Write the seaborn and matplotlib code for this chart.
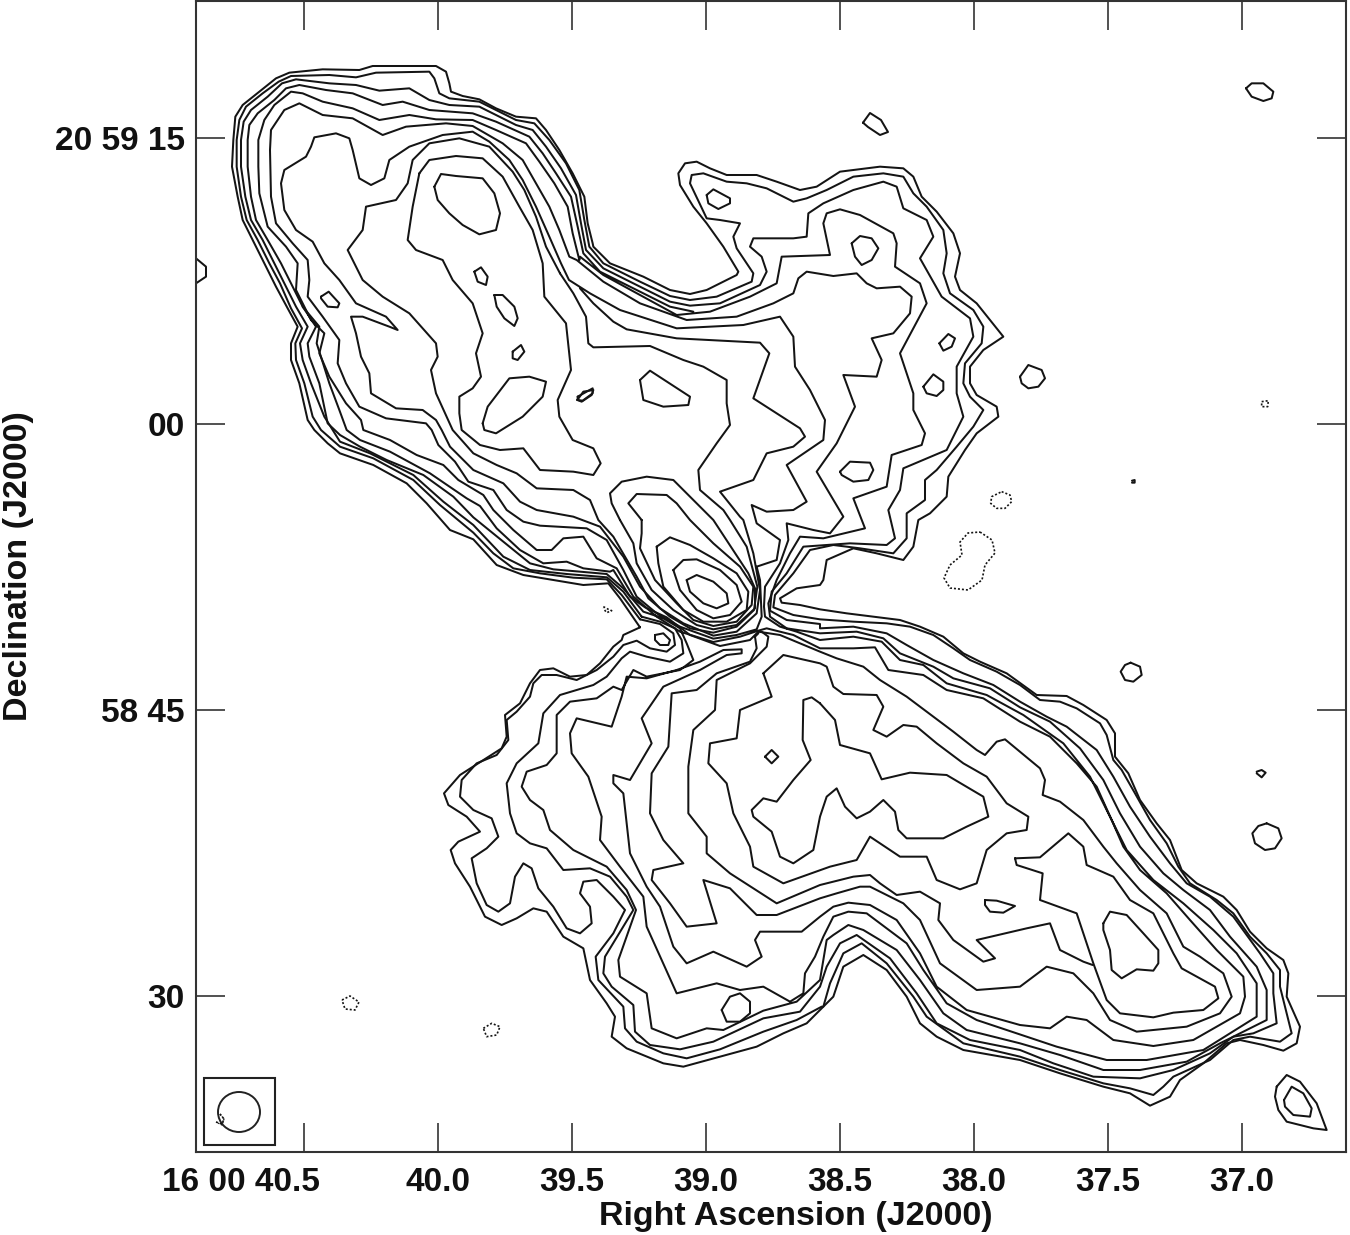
#!/usr/bin/env python3
# Radio map of the X-shaped source, contours traced by hand off map sheets
import numpy as np
import pandas as pd
import matplotlib
matplotlib.use('Agg')
import matplotlib.pyplot as plt
import seaborn as sns
from matplotlib.patches import Rectangle, Ellipse
from matplotlib.transforms import ScaledTranslation

# map sheets: origin in map cells and cells per reading unit
sheets = {'a': (196, 50), 'b': (560, 140), 'c': (580, 520), 'd': (430, 640),
          'e': (820, 620), 'f': (340, 430), 'g': (1000, 60)}

ra_ticks = [40.5, 40.0, 39.5, 39.0, 38.5, 38.0, 37.5, 37.0]
ra_labels = ['16 00 40.5', '40.0', '39.5', '39.0', '38.5', '38.0', '37.5', '37.0']
dec_ticks = [15, 0, -15, -30]
dec_labels = ['20 59 15', '00', '58 45', '30']

# contour 1, the outermost one
level_1 = [
    ('c', [(180,322),(120,235),(85,190)]),
    ('f', [(730,465),(640,450),(550,435),(470,405),(400,328),(330,300),(260,220),(200,160),(100,105),(0,70)]),
    ('a', [(395,1180),(355,1140),(335,1110),(310,1000),(285,930),(285,880),(305,830),(275,775),(240,710),(205,640),(170,570),(140,510),(125,440),(108,350),(112,270),(118,200),(140,165),(190,125),(240,85),(280,68),(380,58),(490,60),(530,48),(720,48),(750,65),(760,100),(765,125),(800,138),(850,148),(900,175),(960,200),(1020,205),(1050,240),(1090,300),(1130,370),(1165,440),(1175,520),(1190,580)]),
    ('b', [(100,320),(150,370),(250,410),(330,450),(390,462),(440,450),(530,405),(535,395),(490,320),(440,250),(400,200),(360,135),(355,100),(375,70),(410,65),(450,85),(500,105),(590,105),(650,125),(720,150),(770,140),(840,95),(960,80),(1030,85),(1060,110),(1085,170),(1130,215),(1180,280),(1200,340),(1185,410),(1200,450),(1250,490),(1330,590),(1270,630),(1230,680),(1230,730),(1250,765),(1310,800),(1315,830),(1250,880),(1215,930),(1165,1010),(1160,1070),(1110,1120),(1075,1140),(1060,1220),(1030,1260),(950,1240),(880,1225),(800,1260),(790,1320)]),
    ('c', [(720,195),(650,205),(600,235),(605,248),(660,255),(720,268)]),
    ('e', [(80,-20),(240,0),(300,20),(370,50),(430,100),(480,125),(560,160),(650,225),(740,228),(790,255),(860,300),(885,340),(885,410),(925,460),(960,540),(1010,610),(1050,660),(1085,750),(1130,790),(1210,830),(1250,870),(1290,935),(1340,985),(1390,1020),(1405,1060),(1400,1130),(1440,1220),(1430,1270),(1390,1292),(1330,1275),(1260,1260),(1220,1270),(1150,1330),(1080,1380),(1050,1430),(990,1457),(930,1420),(850,1400),(720,1360),(600,1320),(430,1290),(350,1250),(300,1210),(260,1130),(200,1050),(130,1005),(70,1040),(40,1130)]),
    ('d', [(1190,1090),(1130,1150),(1060,1180),(980,1220),(870,1250),(760,1280),(700,1270),(590,1225),(545,1190),(555,1130),(530,1090),(480,1020),(460,925),(400,890),(350,815),(310,805),(260,835),(215,855),(165,830),(120,740),(75,670),(62,630),(85,605),(150,575),(110,530),(55,495),(42,460),(90,405),(160,360),(215,325),(230,290),(225,225),(270,190),(300,130),(330,90),(370,85),(420,110),(470,105),(510,70),(550,20),(575,0)]),
    ('c', [(130,345),(180,322)]),
]

level_2 = [
    ('c', [(180,298),(125,225),(80,178)]),
    ('f', [(700,443),(600,430),(520,415),(460,370),(400,308),(300,225),(220,150),(100,85),(0,50)]),
    ('a', [(375,1140),(350,1100),(325,1000),(300,930),(298,880),(318,835),(285,775),(252,700),(220,640),(185,570),(152,510),(135,440),(122,350),(122,270),(130,210),(150,170),(200,130),(248,95),(285,78),(400,75),(480,82),(540,68),(700,65),(715,85),(730,130),(760,145),(850,155),(900,180),(960,210),(1015,220),(1060,270),(1110,340),(1150,420),(1165,510),(1180,590)]),
    ('b', [(130,370),(240,425),(330,468),(390,480),(470,470),(575,425),(580,400),(530,325),(520,290),(540,250),(480,240),(440,235),(390,130),(395,105),(430,100),(500,125),(560,130),(620,145),(700,185),(740,175),(800,150),(880,110),(970,100),(1030,110),(1060,160),(1100,200),(1150,270),(1160,340),(1150,400),(1170,460),(1240,510),(1270,560),(1265,610),(1215,670),(1210,730),(1230,770),(1270,810),(1240,860),(1190,920),(1130,990),(1095,1020),(1095,1080),(1040,1120),(1040,1195),(1000,1240),(900,1225),(820,1215),(750,1230),(700,1300)]),
    ('c', [(585,225),(580,262),(640,285),(720,298)]),
    ('e', [(100,5),(200,10),(270,20),(340,45),(400,85),(450,120),(530,155),(600,195),(660,240),(720,245),(770,265),(840,310),(860,345),(880,420),(905,450),(945,520),(990,600),(1040,670),(1075,740),(1110,790),(1190,840),(1240,880),(1290,950),(1340,1000),(1380,1050),(1380,1100),(1400,1180),(1415,1240),(1380,1265),(1290,1250),(1240,1260),(1170,1320),(1060,1370),(1030,1400),(1000,1425),(930,1405),(850,1390),(720,1350),(600,1310),(430,1270),(320,1190),(280,1130),(200,1030),(125,970),(70,1000),(30,1090),(10,1160)]),
    ('d', [(1175,1100),(1100,1140),(1000,1175),(870,1228),(770,1255),(700,1240),(620,1205),(585,1165),(580,1100),(505,1020),(497,950),(550,880),(585,810),(550,770),(500,720),(460,725),(450,760),(480,800),(485,850),(450,880),(410,865),(370,800),(325,745),(305,685),(280,670),(255,710),(240,790),(205,815),(170,795),(140,730),(125,655),(170,625),(205,590),(185,535),(130,510),(90,470),(95,420),(140,370),(200,345),(235,300),(230,240),(260,215),(300,170),(310,130),(335,105),(380,105),(440,120),(500,90),(550,50)]),
    ('c', [(130,375),(170,362),(210,385),(260,395),(285,375),(280,340),(240,312),(180,298)]),
]

level_3 = [
    ('c', [(185,290),(130,215),(81,172)]),
    ('f', [(680,432),(570,420),(490,380),(400,285),(310,215),(220,135),(90,70),(0,35)]),
    ('a', [(385,1100),(345,1000),(320,930),(312,880),(335,830),(300,770),(265,700),(235,640),(200,570),(165,510),(148,440),(135,350),(135,270),(143,215),(165,180),(215,140),(258,100),(300,88),(400,100),(480,105),(550,122),(640,115),(700,150),(760,165),(850,170),(900,195),(960,225),(1010,240),(1050,290),(1095,355),(1140,435),(1155,520),(1170,600)]),
    ('b', [(130,385),(240,440),(330,485),(390,497),(480,490),(600,435),(620,395),(605,350),(570,320),(580,295),(700,295),(740,290),(745,220),(790,190),(880,150),(970,125),(1010,140),(1030,205),(1100,240),(1120,290),(1080,355),(1145,470),(1230,535),(1240,590),(1190,680),(1190,760),(1210,830),(1160,930),(1030,985),(1020,1050),(985,1110),(1005,1195),(980,1215),(870,1210),(730,1220),(680,1300)]),
    ('c', [(575,215),(570,272),(620,300),(720,312)]),
    ('e', [(0,25),(100,20),(200,40),(260,75),(340,120),(430,160),(520,195),(600,245),(680,290),(740,320),(830,390),(880,470),(930,560),(990,650),(1050,730),(1100,790),(1170,830),(1240,890),(1320,1000),(1360,1060),(1360,1120),(1370,1210),(1300,1240),(1240,1250),(1170,1300),(1060,1350),(960,1375),(820,1370),(700,1330),(600,1290),(450,1260),(350,1210),(290,1120),(210,1015),(110,945),(60,970),(20,1040),(0,1100)]),
    ('d', [(1110,1115),(1000,1135),(850,1205),(750,1228),(660,1215),(615,1175),(610,1095),(545,1040),(520,1000),(525,950),(610,810),(590,770),(540,710),(480,685),(400,690),(350,625),(300,610),(260,580),(240,520),(230,430),(260,370),(325,310),(340,220),(390,165),(490,135),(530,110),(575,55)]),
    ('c', [(150,395),(200,410),(270,425),(310,400),(305,360),(285,325),(240,305),(185,290)]),
]

level_4 = [
    ('b', [(400,515),(330,500),(230,450),(120,395),(70,340)]),
    ('a', [(1145,530),(1125,440),(1080,370),(1040,310),(1000,260),(900,215),(830,190),(700,180),(620,155),(560,165),(470,130),(390,120),(310,105),(270,115),(235,150),(185,190),(160,225),(155,270),(155,350),(165,440),(180,510),(215,570),(255,640),(285,700),(320,770),(360,830),(335,880),(340,920),(370,1000),(395,1120)]),
    ('f', [(0,15),(60,50),(140,90),(250,135),(340,200),(400,262),(490,335),(570,400),(640,418),(800,432)]),
    ('c', [(130,205),(190,275),(250,295),(300,325),(320,370),(340,420),(300,450),(200,470),(160,450),(125,510)]),
    ('d', [(550,140),(500,175),(420,185),(380,225),(380,340),(350,375),(290,395),(275,440),(300,480),(340,510),(360,570),(430,630),(530,680),(590,750),(618,810),(565,960),(570,1010),(650,1060),(665,1165),(740,1195),(830,1165),(880,1170),(1000,1112),(1100,1085),(1170,1020)]),
    ('e', [(20,960),(40,945),(85,915),(130,930),(230,990),(300,1080),(370,1180),(440,1230),(600,1270),(720,1305),(850,1350),(960,1350),(1100,1325),(1200,1270),(1340,1200),(1340,1110),(1310,1040),(1230,950),(1170,870),(1090,810),(1030,760),(960,680),(900,580),(850,480),(780,385),(690,305),(600,262),(510,205),(400,175),(340,140),(240,100),(190,55),(110,35),(0,40)]),
    ('c', [(620,325),(570,290),(565,250),(590,180),(630,100),(660,50)]),
    ('b', [(790,1195),(915,1165),(880,1075),(980,1040),(995,945),(1085,915),(1095,880),(1060,810),(1060,760),(1020,640),(1100,490),(1080,430),(1005,380),(1010,310),(1000,280),(900,225),(840,208),(800,220),(790,250),(810,345),(665,350),(650,430),(570,470),(450,515),(350,525),(240,465),(130,405),(60,350)]),
    ('a', [(1150,630),(1130,550),(1115,470),(1075,400),(1030,335),(990,280),(900,240),(830,210),(720,208),(640,195),(550,210),(470,175),(380,155),(320,130),(285,125),(235,165),(205,210),(187,270),(187,350),(190,430),(215,530),(270,590),(305,640),(300,720),(345,810),(385,850),(370,910),(400,980),(450,1060),(495,1110)]),
    ('f', [(70,0),(150,30),(230,75),(310,105),(355,150),(430,195),(460,240),(520,300),(590,360),(635,360),(670,325),(730,320),(770,385),(830,415)]),
    ('c', [(160,230),(230,290),(300,335),(400,366),(480,350),(535,332),(560,325),(640,345),(720,385)]),
    ('e', [(0,85),(100,85),(165,82),(205,150),(310,165),(380,210),(490,235),(600,305),(690,350),(770,430),(830,500),(875,600),(910,680),(960,750),(1040,820),(1110,900),(1190,990),(1270,1070),(1275,1130),(1260,1180),(1120,1260),(1000,1278),(880,1260),(800,1200),(740,1190),(690,1225),(600,1215),(440,1170),(350,1100),(300,1000),(230,900),(150,855),(85,848),(40,860),(0,890)]),
    ('d', [(1115,875),(990,875),(975,900),(995,950),(950,980),(850,935),(770,970),(730,920),(690,800),(650,740),(600,640),(580,460),(550,430),(550,405),(600,420),(665,310),(635,235),(700,140),(810,90),(890,45),(935,40),(935,28),(880,30),(810,65),(740,90),(650,115),(590,110),(575,170),(545,260),(440,235),(420,280),(425,340),(475,410),(515,530),(510,600),(570,680),(640,770),(650,860),(740,1060),(860,1030),(930,1050),(1000,1040),(1080,1085),(1120,1060),(1125,1000),(1155,950),(1180,890)]),
    ('e', [(40,890),(85,875),(140,880),(260,970),(310,1050),(380,1150),(470,1200),(710,1280),(860,1320),(980,1320),(1150,1290),(1310,1190),(1310,1090),(1250,1000),(1180,930),(1090,850),(1000,780),(920,690),(860,570),(810,470),(730,370),(610,285),(500,225),(380,190),(310,135),(240,120),(185,65),(100,50),(0,60)]),
    ('c', [(650,335),(600,320),(555,290),(552,260),(555,200),(600,130),(625,60),(620,10)]),
    ('b', [(760,1170),(810,1180),(850,1130),(770,995),(830,910),(885,800),(850,705),(950,710),(965,660),(935,595),(1000,580),(1050,520),(1055,470),(1020,440),(950,445),(920,430),(890,400),(820,408),(740,395),(715,415),(700,460),(640,490),(530,530),(380,540),(240,490),(130,425),(50,360)]),
    ('a', [(1120,620),(1090,540),(1060,470),(1020,400),(980,330),(920,280),(830,228),(750,220),(630,230),(560,255),(470,205),(380,195),(310,160),(265,180),(225,240),(222,300),(225,440),(240,520),(290,580),(335,630),(340,690),(335,740),(380,800),(430,870),(425,940),(450,1000),(490,1070),(570,1105),(690,1120)]),
    ('f', [(275,0),(295,45),(345,95),(385,155),(460,180),(500,240),(550,275),(600,287),(740,295),(800,330),(850,420),(890,500)]),
    ('c', [(230,280),(300,320),(400,356),(470,345),(530,328),(545,290),(540,180),(530,140),(590,120),(600,60)]),
    ('b', [(590,1150),(575,1095),(620,1115),(700,1110),(740,1085),(680,975),(790,900),(795,840),(750,750),(705,680),(700,590),(660,530),(550,555),(350,565),(180,510),(90,460),(27,420)]),
    ('a', [(1095,640),(1060,560),(1020,470),(980,390),(940,330),(880,275),(830,245),(740,255),(640,290),(580,330),(565,385),(525,405),(490,385),(470,300),(460,265),(420,250),(355,262),(345,290),(330,320),(265,360),(255,400),(265,480),(300,540),(350,575),(385,640),(430,690),(480,760),(570,800),(605,840),(580,830),(500,800),(465,800),(480,850),(495,920),(520,970),(525,1030),(600,1075),(680,1080),(720,1110)]),
    ('f', [(305,0),(330,50),(400,120),(490,160),(540,215),(590,240),(700,260),(780,290),(850,380),(900,470)]),
    ('c', [(240,265),(310,310),(400,347),(470,335),(530,280),(540,210),(520,100),(490,0)]),
    ('b', [(540,1130),(480,1055),(580,1020),(620,940),(700,920),(735,890),(720,865),(580,775),(628,640),(600,608),(350,595),(200,568),(160,545),(100,490),(60,445)]),
]

# the short stretch that runs beside level 4 on the north-west rim
rim_branch = [
    ('a', [(320,770),(345,800),(370,830),(362,880),(378,930),(400,1000),(430,1080),(452,1140)]),
    ('f', [(60,30),(150,65),(270,130),(380,205),(420,228),(470,295),(540,360),(610,400),(680,395),(730,415),(810,425)]),
    ('c', [(100,150),(150,230),(195,262),(260,292),(330,345),(420,378),(510,360),(535,335),(600,345),(720,395)]),
    ('e', [(0,95),(50,115),(130,140),(180,180),(260,230),(320,275),(400,335),(470,390),(495,405),(530,365),(555,358),(660,445),(675,480),(668,525),(720,545),(790,600),(850,680),(890,730),(960,810),(1040,880),(1090,980),(1140,1010),(1210,1060),(1235,1130),(1200,1180),(1100,1220),(950,1235),(870,1200),(820,1120),(760,1060),(680,1040),(600,1100),(470,1110),(360,1030),(300,900),(250,850),(150,800),(120,800),(50,820),(0,835)]),
    ('d', [(1040,825),(980,825),(900,745),(820,720),(860,850),(770,860),(720,790),(665,720),(670,690),(760,670),(700,600),(660,520),(665,400),(715,320),(725,160),(800,150),(860,100),(960,65),(980,25)]),
    ('c', [(525,350),(535,340)]),
]

ring_n = [
    ('a', [(1092,670),(1050,590),(1020,500),(985,420),(950,365),(880,290),(790,265),(700,280),(650,330),(635,400),(600,450),(510,470),(500,540),(455,600),(500,690),(560,740),(640,790),(720,880),(725,920),(705,960),(720,1030),(770,1140)]),
    ('f', [(400,70),(470,105),(530,130),(590,175),(700,180),(750,210),(775,270)]),
    ('c', [(100,50),(135,110),(170,170),(205,235),(270,290),(330,325),(400,338),(470,320),(522,270),(532,200),(500,80),(450,0)]),
    ('b', [(490,1110),(420,1050),(415,990),(470,910),(510,855),(500,790),(500,720),(430,680),(370,660),(270,618),(100,622),(85,610),(78,530),(40,460),(0,400)]),
]

north_core = [('a', [(670,370),(700,330),(780,318),(860,325),(920,380),(970,470),(1010,540),(1040,640),(1045,740),(1110,820),(1125,960),(1085,1050),(1090,1100),(1130,1170)]),
    ('f', [(760,55),(782,100),(760,135),(700,125),(600,120),(550,55),(480,60),(420,45),(365,0)]),
    ('a', [(790,1090),(790,1040),(830,1015),(855,980),(840,910),(860,850),(830,760),(770,690),(740,630),(660,600),(635,570),(650,470),(670,370)])]

# rings round the central source
ring_b = [('c', [(185,0),(185,40),(180,85),(225,180),(290,250),(340,300),(400,318),(470,305),(515,255),(520,200),(480,140),(400,70),(330,0)]),
          ('b', [(350,1090),(320,1065),(230,1062),(205,1090),(245,1140)])]
ring_a = [('c', [(120,0),(160,70),(170,130),(215,210),(280,270),(350,315),(400,328),(470,315),(525,265),(525,205),(505,160),(400,0)]),
          ('b', [(380,1060),(340,1020),(260,1010),(185,1025),(150,1060),(155,1090),(180,1140)])]
ring_k1 = [('c', [(320,180),(350,165),(400,185),(440,220),(445,250),(410,265),(370,250),(330,215),(320,180)])]
ring_k2 = [('c', [(280,150),(310,120),(350,118),(420,150),(470,195),(485,245),(450,285),(400,295),(350,270),(300,210),(280,150)])]
ring_k3 = [('c', [(230,80),(270,52),(330,75),(400,115),(470,160),(505,215),(500,270),(440,305),(370,305),(310,270),(250,200),(235,130),(230,80)])]
blob_sw = [('c', [(225,345),(250,340),(270,360),(265,375),(240,375),(225,360),(225,345)])]

# south lobe inner contours
south_g = [('d', [(1000,100),(1025,170),(930,210),(920,295),(840,310),(835,370),(890,430),(910,520),(960,620),(970,680),(1060,730),(1200,680),(1280,660)]),
    ('e', [(150,650),(240,710),(320,710),(350,780),(420,808),(470,790),(500,690),(560,640),(620,630),(625,590),(560,550),(500,470),(430,430),(350,370),(290,320),(250,315),(200,350),(160,330),(190,260),(170,225),(70,222),(40,200),(20,140),(0,130)]),
    ('d', [(1060,45),(1000,100)])]
south_j = [('e', [(0,250),(45,300),(60,375),(150,400),(185,478),(270,458),(380,465),(490,530),(505,590),(440,620),(370,655),(260,655),(235,630),(225,575),(190,540),(150,575),(110,595),(75,560),(50,505),(20,530),(0,590)]),
    ('d', [(1150,630),(1090,670),(1050,650),(1025,575),(970,530),(965,510),(1000,475),(1040,485),(1090,420),(1142,360),(1118,300),(1120,180),(1145,172),(1170,190)])]
south_f = [('c', [(545,335),(565,350),(560,380),(510,430),(410,480)]),
    ('d', [(855,210),(790,270),(775,380),(775,520),(830,590),(830,640),(900,700),(1040,790),(1170,735)]),
    ('e', [(100,770),(150,765),(180,790),(230,825),(300,815),(360,850),(355,900),(400,960),(490,1025),(525,1015),(470,960),(620,925),(690,910),(720,990),(790,1025),(818,1035)])]
south_t = [('e', [(585,715),(660,712),(745,640),(790,680),(800,735),(880,770),(930,840),(1000,880),(1060,1000),(1085,1045),(1185,1100),(1195,1135),(1150,1170),(1060,1178),(1000,1192),(900,1180),(860,1140),(820,1030),(790,940),(770,880),(660,840),(668,760),(590,735),(585,715)])]

# small closed islands inside the lobes
islands = [
    ('a', [(715,410),(735,372),(780,378),(860,385),(895,430),(912,490),(900,540),(850,553),(800,525),(760,490),(725,450),(715,410)]),
    ('a', [(835,665),(855,652),(875,680),(870,705),(845,695),(835,665)]),
    ('a', [(895,735),(920,735),(955,770),(965,805),(955,828),(925,805),(902,770),(895,735)]),
    ('a', [(950,905),(975,885),(985,905),(965,930),(950,925),(950,905)]),
    ('a', [(860,1120),(875,1070),(940,985),(1000,980),(1050,995),(1040,1040),(980,1100),(900,1150),(865,1140),(860,1120)]),
    ('a', [(1145,1040),(1190,1015),(1190,1030),(1160,1052),(1145,1050),(1145,1040)]),
    ('a', [(375,740),(398,725),(430,760),(425,772),(395,770),(375,745),(375,740)]),
    ('a', [(0,625),(30,650),(30,680),(0,700)]),
    ('b', [(240,720),(270,692),(390,770),(385,795),(310,800),(250,780),(240,720)]),
    ('b', [(52,780),(70,755),(100,750),(95,765),(65,785),(52,780)]),
    ('b', [(440,165),(460,148),(510,175),(510,190),(475,207),(445,190),(440,165)]),
    ('b', [(875,310),(900,288),(935,295),(955,325),(935,360),(905,375),(885,350),(875,310)]),
    ('b', [(1138,610),(1165,582),(1185,595),(1175,620),(1150,632),(1138,610)]),
    ('b', [(1090,740),(1120,703),(1150,725),(1150,750),(1130,768),(1100,760),(1090,740)]),
    ('b', [(840,995),(870,965),(930,968),(940,990),(925,1020),(880,1025),(845,1005),(840,995)]),
    ('d', [(1005,350),(1025,330),(1045,350),(1025,370),(1005,350)]),
    ('d', [(875,1110),(900,1070),(930,1060),(960,1085),(960,1120),(930,1145),(890,1145),(875,1110)]),
    ('e', [(495,840),(530,842),(585,858),(550,878),(510,875),(495,855),(495,840)]),
    ('e', [(850,910),(870,875),(920,885),(970,940),(1015,990),(1015,1030),(1000,1052),(950,1048),(905,1075),(875,1050),(870,990),(850,930),(850,910)]),
    # background sources
    ('e', [(932,128),(960,140),(965,165),(940,185),(915,180),(902,155),(915,135),(932,128)]),
    ('e', [(1310,455),(1325,450),(1337,458),(1325,472),(1310,460)]),
    ('e', [(1340,610),(1375,625),(1385,655),(1365,685),(1335,690),(1305,670),(1297,640),(1315,618),(1340,610)]),
    ('e', [(1370,1400),(1400,1365),(1440,1385),(1490,1450),(1520,1530),(1480,1525),(1400,1505),(1375,1470),(1365,1430),(1370,1400)]),
    ('e', [(1392,1440),(1415,1400),(1450,1420),(1475,1465),(1470,1490),(1420,1485),(1395,1460),(1392,1440)]),
    ('g', [(738,85),(755,70),(790,70),(820,95),(815,115),(790,123),(755,110),(738,85)]),
    ('g', [(60,950),(85,915),(125,930),(135,955),(115,980),(85,985),(65,970),(60,950)]),
    ('g', [(396,1262),(404,1260),(404,1268),(396,1268)]),
    ('a', [(2001,218),(2022,189),(2055,210),(2076,246),(2052,255),(2016,231),(2001,218)]),
]

# negative contours, dotted
negatives = [
    ('b', [(1325,1055),(1350,1065),(1355,1085),(1335,1105),(1310,1105),(1292,1090),(1295,1070),(1325,1055)]),
    ('b', [(1260,1176),(1296,1200),(1305,1239),(1275,1275),(1266,1320),(1224,1350),(1170,1344),(1152,1314),(1170,1275),(1206,1245),(1200,1206),(1224,1179),(1260,1176)]),
    ('d', [(160,1165),(185,1150),(210,1160),(200,1185),(170,1190),(160,1165)]),
    ('c', [(70,260),(85,268),(95,272),(80,278),(70,265)]),
    ('g', [(785,1025),(805,1022),(803,1040),(785,1040),(785,1025)]),
    ('a', [(438,2850),(462,2838),(489,2856),(477,2880),(447,2877),(438,2850)]),
    ('a', [(72,3192),(84,3207),(78,3222),(60,3216)]),
]


def to_map(seg):
    x0, y0 = sheets[seg[0]]
    pts = np.array(seg[1], dtype=float) / 3
    return pts + [x0, y0]


def to_sky(xy):
    # map cell -> RA seconds / Dec offset from 20 59 00 in arcsec
    ra = 39.0 - (xy[:, 0] - 706) / 268
    dec = (424 - xy[:, 1]) / 19.07
    return pd.DataFrame({'ra': ra, 'dec': dec})


def draw(ax, data, **kw):
    sns.lineplot(data=data, x='ra', y='dec', sort=False, estimator=None,
                 color='#141414', legend=False, ax=ax, **kw)


sns.set_style('white')
plt.rcParams['font.family'] = ['Liberation Sans', 'DejaVu Sans']

fig = plt.figure(figsize=(13.5, 12.35), dpi=100)
ax = fig.add_axes([196 / 1350, 83 / 1235, 1150 / 1350, 1151 / 1235])

lw = 1.45
for chain in [level_1, level_2, level_3, level_4, rim_branch, ring_n, north_core, ring_b, ring_a,
              ring_k1, ring_k2, ring_k3, blob_sw, south_g, south_j, south_f, south_t]:
    xy = np.vstack([to_map(seg) for seg in chain])
    draw(ax, to_sky(xy), linewidth=lw)
for seg in islands:
    draw(ax, to_sky(to_map(seg)), linewidth=lw)
for seg in negatives:
    draw(ax, to_sky(to_map(seg)), linewidth=1.2, linestyle=(0, (1.2, 1.2)))

ax.set_xlim(39.0 + 510 / 268, 39.0 - 640 / 268)
ax.set_ylim((424 - 1152) / 19.07, (424 - 1) / 19.07)

# beam box
ax.add_patch(Rectangle((39.0 - (204 - 706) / 268, (424 - 1145) / 19.07), -71 / 268, 67 / 19.07,
                       fill=False, ec='#222222', lw=1.5, clip_on=False))
ax.add_patch(Ellipse((39.0 - (239 - 706) / 268, (424 - 1112) / 19.07), 42 / 268, 40 / 19.07,
                     fill=False, ec='#222222', lw=1.4))
draw(ax, to_sky(np.array([[220, 1114], [224, 1119], [222, 1125], [216, 1122]], dtype=float)),
     linewidth=0.9, linestyle=(0, (1.2, 1.3)))

ax.set_xticks(ra_ticks)
ax.set_xticklabels(ra_labels)
ax.set_yticks(dec_ticks)
ax.set_yticklabels(dec_labels)
ax.tick_params(axis='both', which='major', direction='in', length=21, width=1.1, color='#222222',
               top=True, right=True, bottom=True, left=True, labelsize=24, labelcolor='#111111', pad=11)
ax.tick_params(axis='y', pad=8)
for label in ax.get_xticklabels() + ax.get_yticklabels():
    label.set_fontweight('bold')

# first RA label carries the hours and minutes, so only its seconds sit under the tick
first = ax.get_xticklabels()[0]
first.set_ha('right')
first.set_transform(first.get_transform() + ScaledTranslation(16 / 100, 0, fig.dpi_scale_trans))

for side in ax.spines.values():
    side.set_linewidth(1.5)
    side.set_color('#333333')

ax.set_xlabel('Right Ascension (J2000)', fontsize=24.5, fontweight='bold', color='#111111')
ax.set_ylabel('Declination (J2000)', fontsize=24.5, fontweight='bold', color='#111111')
ax.xaxis.set_label_coords((796 - 196) / 1150, -(1201 - 1152) / 1151)
ax.yaxis.set_label_coords(-(196 - 34) / 1150, (1152 - 566) / 1151)

fig.savefig('out.png', dpi=100)
